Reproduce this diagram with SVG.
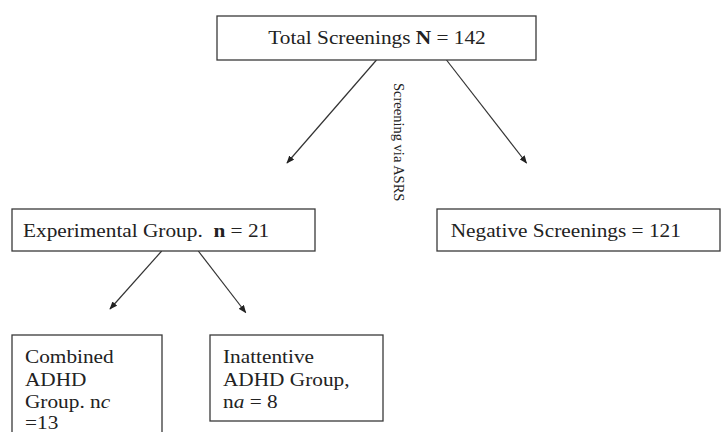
<svg xmlns="http://www.w3.org/2000/svg" width="723" height="432" viewBox="0 0 723 432">
<style>
.box{fill:#fff;stroke:#3a3a3a;stroke-width:1.3}
.t{font-family:"Liberation Serif","Times New Roman",serif;font-size:18.6px;fill:#222}
.lbl{font-family:"Liberation Serif","Times New Roman",serif;font-size:14.5px;fill:#222}
.conn{stroke:#333;stroke-width:1.2;fill:none;marker-end:url(#ah)}
</style>
<defs>
<marker id="ah" viewBox="0 0 10 8" refX="9" refY="4" markerWidth="8" markerHeight="6.4" markerUnits="userSpaceOnUse" orient="auto">
<path d="M0,0 L10,4 L0,8 Z" fill="#222"/>
</marker>
</defs>
<rect width="723" height="432" fill="#fff"/>
<g id="connectors">
<line class="conn" x1="376.5" y1="60" x2="287" y2="163"/>
<line class="conn" x1="446.5" y1="60" x2="526.5" y2="163"/>
<line class="conn" x1="161.7" y1="251" x2="110" y2="309"/>
<line class="conn" x1="198.3" y1="251" x2="245.7" y2="312.5"/>
<text class="lbl" transform="translate(394,83) rotate(90)">Screening via ASRS</text>
</g>
<g id="total">
<rect class="box" x="217" y="16" width="319" height="44"/>
<text class="t" transform="translate(268.3,44) scale(1.145,1)">Total Screenings <tspan font-weight="bold">N</tspan> = 142</text>
</g>
<g id="experimental">
<rect class="box" x="12" y="209" width="303" height="42"/>
<text class="t" transform="translate(23,237) scale(1.145,1)">Experimental Group. <tspan dx="4.7" font-weight="bold">n</tspan> = 21</text>
</g>
<g id="negative">
<rect class="box" x="437" y="209" width="283" height="42"/>
<text class="t" transform="translate(450.7,237) scale(1.145,1)">Negative Screenings = 121</text>
</g>
<g id="combined">
<rect class="box" x="12" y="335" width="150" height="110"/>
<text class="t" transform="translate(25,0) scale(1.145,1)"><tspan x="0" y="363">Combined</tspan><tspan x="0" y="386">ADHD</tspan><tspan x="0" y="408">Group. n<tspan font-style="italic">c</tspan></tspan><tspan x="0" y="429">=13</tspan></text>
</g>
<g id="inattentive">
<rect class="box" x="210" y="335" width="173" height="86"/>
<text class="t" transform="translate(223,0) scale(1.145,1)"><tspan x="0" y="363">Inattentive</tspan><tspan x="0" y="386">ADHD Group,</tspan><tspan x="0" y="408">n<tspan font-style="italic">a</tspan> = 8</tspan></text>
</g>
</svg>
